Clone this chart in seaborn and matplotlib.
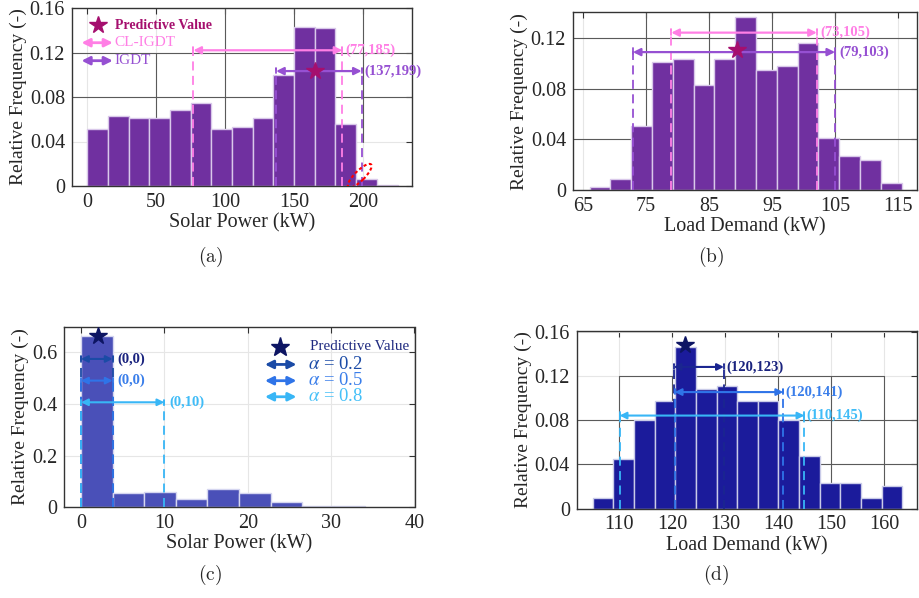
import numpy as np
import pandas as pd
import matplotlib
matplotlib.use('Agg')
import matplotlib.pyplot as plt
import matplotlib.transforms as mtransforms
from matplotlib.patches import Ellipse
import seaborn as sns

# ---------------- data ----------------
solar_a_edges = [0, 15, 30, 45, 60, 75, 90, 105, 120, 135, 150, 165, 180, 195, 210, 225]
solar_a_freq = [0.0515, 0.0626, 0.0612, 0.0612, 0.0680, 0.0747, 0.0515, 0.0530,
                0.0612, 0.0995, 0.1432, 0.1420, 0.0557, 0.0062, 0.0008]

load_b_edges = [66.05, 69.35, 72.65, 75.95, 79.25, 82.55, 85.85, 89.15, 92.45,
                95.75, 99.05, 102.35, 105.65, 108.95, 112.25, 115.55]
load_b_freq = [0.0026, 0.0086, 0.0502, 0.1006, 0.1035, 0.0828, 0.1035, 0.1365,
               0.0949, 0.0975, 0.1155, 0.0413, 0.0267, 0.0235, 0.0057]

solar_c_edges = [0, 3.79, 7.58, 11.37, 15.16, 18.95, 22.74, 26.53, 30.32, 34.1]
solar_c_freq = [0.665, 0.054, 0.060, 0.033, 0.070, 0.057, 0.022, 0.005, 0.005]

load_d_edges = [105, 108.9, 112.8, 116.7, 120.6, 124.5, 128.4, 132.3, 136.2,
                140.1, 144.0, 147.9, 151.8, 155.7, 159.6, 163.5]
load_d_freq = [0.0094, 0.0447, 0.0800, 0.0974, 0.1464, 0.1080, 0.1114, 0.0974,
               0.0974, 0.0800, 0.0480, 0.0234, 0.0234, 0.0094, 0.0201]

# predictive values (x, y)
pred_a = (165.5, 0.1033)
pred_b = (89.4, 0.110)
pred_c = (2.0, 0.665)
pred_d = (122.5, 0.148)

# intervals: (lo, hi, level, label)
a_methods = ['CL-IGDT', 'IGDT']
a_lo = [77, 137]
a_hi = [185, 199]
a_lvl = [0.122, 0.1033]
a_lab = ['(77,185)', '(137,199)']

b_lo = [79.0, 72.9]
b_hi = [102.1, 105.0]
b_lvl = [0.124, 0.1087]
b_lab = ['(73,105)', '(79,103)']

alphas = ['0.2', '0.5', '0.8']
c_lo = [0, 0, 0]
c_hi = [3.8, 3.8, 10]
c_lvl = [0.575, 0.491, 0.407]
c_lab = ['(0,0)', '(0,0)', '(0,10)']

d_lo = [120.3, 120.5, 110.1]
d_hi = [129.8, 141.0, 145.0]
d_lvl = [0.1284, 0.1056, 0.0843]
d_lab = ['(120,123)', '(120,141)', '(110,145)']

# ---------------- style ----------------
sns.set_theme(style='white')
plt.rcParams['font.family'] = ['Liberation Serif', 'DejaVu Serif']
plt.rcParams['mathtext.fontset'] = 'stix'

PURPLE_BAR = '#7030A0'
PINK = '#FF7FE5'
IGDT = '#9650D2'
MAGENTA = '#A50F6E'
NAVY = '#0D1563'
C_BAR = '#4A50B8'
D_BAR = '#1B1B9B'
C_COLS = ['#1B4BA6', '#2F74E8', '#38B6F6']
D_COLS = ['#1A2590', '#2F74E8', '#38B6F6']
TXT_C = ['#1A237E', '#3A7EEA', '#40BCF7']
LIGHT = '#e6e6e6'
DARK = '#5a5a5a'

fig = plt.figure(figsize=(9.19, 5.98), dpi=100)
W, H = 919, 598


def add_ax(l, r, t, b):
    return fig.add_axes([l / W, 1 - b / H, (r - l) / W, (b - t) / H])


axA = add_ax(72, 412, 8, 186)
axB = add_ax(573, 917, 12.3, 190.3)
axC = add_ax(64.3, 414.5, 326.7, 507.3)
axD = add_ax(576.7, 916.7, 331, 508.5)


def hist(ax, edges, freq, color, edge):
    e = [float(v) for v in edges]
    centers = [(e[i] + e[i + 1]) / 2 for i in range(len(e) - 1)]
    df = pd.DataFrame({'x': centers, 'w': list(freq)})
    sns.histplot(data=df, x='x', weights='w', bins=e, ax=ax, color=color,
                 edgecolor=edge, linewidth=1.0, alpha=1, stat='count', zorder=2)


def style(ax, xlim, ylim, xt, yt, ytl, xlabel):
    ax.set_xlim(*xlim)
    ax.set_ylim(*ylim)
    ax.set_xticks(xt)
    ax.set_xticklabels([str(v) for v in xt])
    ax.set_yticks(yt)
    ax.set_yticklabels(ytl)
    ax.set_axisbelow(True)
    ax.grid(True, color=LIGHT, lw=0.8, zorder=0)
    ax.tick_params(direction='in', length=4, width=0.8, top=True, right=True,
                   color='#333333', labelsize=14.5, pad=5)
    for s in ax.spines.values():
        s.set_color('#333333')
        s.set_linewidth(1.0)
        s.set_visible(True)
    ax.set_xlabel(xlabel, fontsize=14.5, labelpad=1)
    ax.set_ylabel('Relative Frequency (-)', fontsize=14, labelpad=2)


def dark_h(ax, y, x0, x1):
    ax.plot([x0, x1], [y, y], color=DARK, lw=0.8, zorder=1)


def dark_v(ax, x, y0, y1):
    ax.plot([x, x], [y0, y1], color=DARK, lw=0.8, zorder=1)


def interval(ax, lo, hi, y, color, tick, lw=1.6, ms=11):
    ax.annotate('', xy=(lo, y), xytext=(hi, y),
                arrowprops=dict(arrowstyle='<|-|>', color=color, lw=lw,
                                shrinkA=0, shrinkB=0, mutation_scale=ms),
                zorder=5)
    for xv in (lo, hi):
        ax.plot([xv, xv], [0, y + tick], color=color, lw=1.3,
                ls=(0, (5, 3)), zorder=5)
        ax.plot([xv, xv], [y - tick * 0.6, y + tick], color=color, lw=1.3,
                zorder=5)


def leg_arrow(ax, x0, x1, y, color, lw=2.0, ms=12):
    ax.annotate('', xy=(x0, y), xytext=(x1, y), xycoords='axes fraction',
                textcoords='axes fraction',
                arrowprops=dict(arrowstyle='<|-|>', color=color, lw=lw,
                                shrinkA=0, shrinkB=0, mutation_scale=ms))


# ---------------- (a) ----------------
hist(axA, solar_a_edges, solar_a_freq, PURPLE_BAR, '#d9c8ea')
style(axA, (-11, 235.5), (0, 0.16), [0, 50, 100, 150, 200],
      [0, 0.04, 0.08, 0.12, 0.16], ['0', '0.04', '0.08', '0.12', '0.16'],
      'Solar Power (kW)')
for yv in (0.08, 0.12):
    dark_h(axA, yv, -11, 235.5)
for xv in (100, 150, 200):
    dark_v(axA, xv, 0.04, 0.16)
dark_v(axA, 50, 0.04, 0.12)
a_cols = [PINK, IGDT]
for lo, hi, lv, lab, col in zip(a_lo, a_hi, a_lvl, a_lab, a_cols):
    interval(axA, lo, hi, lv, col, 0.003)
    axA.text(hi + 2, lv, lab, color=col, fontsize=10.5, fontweight='bold',
             va='center', ha='left', zorder=6)
axA.plot(*pred_a, marker='*', ms=13, color=MAGENTA, ls='none', zorder=6)
# legend
axA.plot(0.077, 0.904, marker='*', ms=13, color=MAGENTA, transform=axA.transAxes,
         ls='none', zorder=6)
axA.text(0.126, 0.904, 'Predictive Value', color=MAGENTA, fontsize=10,
         fontweight='bold', va='center', transform=axA.transAxes)
leg_arrow(axA, 0.028, 0.12, 0.805, PINK)
axA.text(0.126, 0.805, a_methods[0], color=PINK, fontsize=11, va='center',
         transform=axA.transAxes)
leg_arrow(axA, 0.028, 0.12, 0.704, IGDT)
axA.text(0.126, 0.704, a_methods[1], color=IGDT, fontsize=11, va='center',
         transform=axA.transAxes)
# red dotted ellipse
etr = mtransforms.Affine2D() + mtransforms.ScaledTranslation(197.6, 0.0092, axA.transData)
axA.add_patch(Ellipse((0, 0), width=32, height=10, angle=45, fill=False,
                      edgecolor='red', ls=(0, (1.5, 1.2)), lw=1.5,
                      transform=etr, zorder=6))

# ---------------- (b) ----------------
hist(axB, load_b_edges, load_b_freq, PURPLE_BAR, '#d9c8ea')
style(axB, (63.4, 118), (0, 0.14), [65, 75, 85, 95, 105, 115],
      [0, 0.04, 0.08, 0.12], ['0', '0.04', '0.08', '0.12'], 'Load Demand (kW)')
for yv in (0.04, 0.08, 0.12):
    dark_h(axB, yv, 63.4, 118)
for xv in (75, 85, 95, 105):
    dark_v(axB, xv, 0, 0.14)
b_cols = [PINK, IGDT]
for lo, hi, lv, lab, col in zip(b_lo, b_hi, b_lvl, b_lab, b_cols):
    interval(axB, lo, hi, lv, col, 0.003)
    axB.text(hi + 0.6, lv, lab, color=col, fontsize=10.5, fontweight='bold',
             va='center', ha='left', zorder=6)
axB.plot(*pred_b, marker='*', ms=13, color=MAGENTA, ls='none', zorder=6)

# ---------------- (c) ----------------
hist(axC, solar_c_edges, solar_c_freq, C_BAR, '#d5d6f0')
style(axC, (-2, 40), (0, 0.7), [0, 10, 20, 30, 40],
      [0, 0.2, 0.4, 0.6], ['0', '0.2', '0.4', '0.6'], 'Solar Power (kW)')
for lo, hi, lv, lab, col, tc in zip(c_lo, c_hi, c_lvl, c_lab, C_COLS, TXT_C):
    interval(axC, lo, hi, lv, col, 0.01, lw=1.5, ms=10)
    axC.text(hi + 0.6, lv, lab, color=tc, fontsize=10.5, fontweight='bold',
             va='center', ha='left', zorder=6)
axC.plot(*pred_c, marker='*', ms=13, color=NAVY, ls='none', zorder=6)
axC.plot(0.616, 0.889, marker='*', ms=14, color=NAVY, transform=axC.transAxes,
         ls='none', zorder=6)
axC.text(0.701, 0.889, 'Predictive Value', color='#1F2A80', fontsize=10.8,
         va='center', transform=axC.transAxes)
for a, yy, col, tc in zip(alphas, [0.791, 0.701, 0.612], C_COLS,
                          ['#1B4BA6', '#3A7EEA', '#45C0F8']):
    leg_arrow(axC, 0.573, 0.663, yy, col)
    axC.text(0.697, yy, r'$\alpha$ = ' + a, color=tc, fontsize=13.5,
             va='center', transform=axC.transAxes)

# ---------------- (d) ----------------
hist(axD, load_d_edges, load_d_freq, D_BAR, '#c9cbe8')
style(axD, (102, 166.2), (0, 0.161), [110, 120, 130, 140, 150, 160],
      [0, 0.04, 0.08, 0.12, 0.16], ['0', '0.04', '0.08', '0.12', '0.16'],
      'Load Demand (kW)')
for yv in (0.04, 0.08):
    dark_h(axD, yv, 102, 166.2)
dark_h(axD, 0.12, 110, 160)
for xv in (110, 120, 130, 140, 150, 160):
    dark_v(axD, xv, 0, 0.12)
for lo, hi, lv, lab, col, tc in zip(d_lo, d_hi, d_lvl, d_lab, D_COLS,
                                    ['#1A237E', '#3A7EEA', '#40BCF7']):
    interval(axD, lo, hi, lv, col, 0.003, lw=1.5, ms=10)
    axD.text(hi + 0.4, lv, lab, color=tc, fontsize=10.5, fontweight='bold',
             va='center', ha='left', zorder=6)
axD.plot(*pred_d, marker='*', ms=13, color=NAVY, ls='none', zorder=6)

# ---------------- captions ----------------
for txt, x, y in [('(a)', 211, 257), ('(b)', 711, 257), ('(c)', 210, 575), ('(d)', 716, 575)]:
    fig.text(x / W, 1 - y / H, r'$\mathrm{' + txt + '}$', fontsize=14,
             ha='center', va='center', math_fontfamily='cm')

fig.savefig('out.png', dpi=100)
